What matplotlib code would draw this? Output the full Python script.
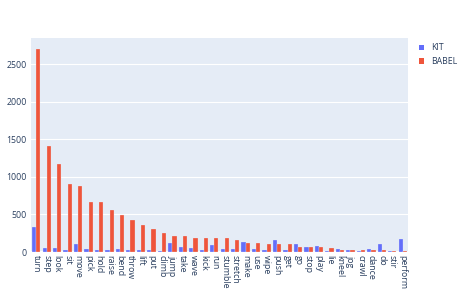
import numpy as np
import matplotlib.pyplot as plt
from matplotlib.patches import Patch

verbs = ['turn', 'step', 'look', 'sit', 'move', 'pick', 'hold', 'raise', 'bend', 'throw',
         'lift', 'put', 'climb', 'jump', 'take', 'wave', 'kick', 'run', 'stumble', 'stretch',
         'make', 'use', 'wipe', 'push', 'get', 'go', 'stop', 'play', 'lie', 'kneel',
         'jog', 'crawl', 'dance', 'do', 'stir', 'perform']

kit = [330, 49, 49, 31, 102, 40, 27, 31, 40, 27,
       27, 27, 18, 120, 67, 58, 27, 93, 45, 36,
       129, 40, 27, 164, 27, 102, 67, 76, 13, 36,
       22, 18, 44, 102, 18, 178]

babel = [2710, 1410, 1177, 902, 880, 667, 665, 556, 489, 422,
         364, 307, 258, 218, 213, 191, 190, 190, 180, 160,
         124, 116, 111, 107, 102, 71, 67, 67, 49, 31,
         27, 31, 31, 27, 13, 18]

txt = '#2a3f5f'
plt.rcParams['font.family'] = ['Open Sans', 'DejaVu Sans']

fig = plt.figure(figsize=(4.66, 2.92), dpi=100)
ax = fig.add_axes([31 / 466, 1 - 252 / 292, 377 / 466, 214 / 292])
ax.set_facecolor('#E5ECF6')

x = np.arange(len(verbs))
w = 0.4
ax.bar(x - w / 2, kit, width=w, color='#636efa', edgecolor='#E5ECF6', linewidth=0.2, zorder=3)
ax.bar(x + w / 2, babel, width=w, color='#EF553B', edgecolor='#E5ECF6', linewidth=0.2, zorder=3)

ax.set_xlim(-0.5, len(verbs) - 0.5)
ax.set_ylim(0, 2853)
ax.set_yticks([0, 500, 1000, 1500, 2000, 2500])
ax.set_xticks(x)
ax.set_xticklabels(verbs, rotation=-90, fontsize=6.3, color=txt)
ax.tick_params(axis='y', labelsize=6.3, labelcolor=txt, length=0, pad=3)
ax.tick_params(axis='x', length=0, pad=2)
ax.grid(axis='y', color='white', linewidth=0.8, zorder=0)
ax.axhline(0, color='white', linewidth=1.5, zorder=2)
for s in ax.spines.values():
    s.set_visible(False)

handles = [Patch(facecolor='#636efa', edgecolor='none', label='KIT'),
           Patch(facecolor='#EF553B', edgecolor='none', label='BABEL')]
leg = fig.legend(handles=handles, loc='upper left', bbox_to_anchor=(415 / 466, 1 - 40 / 292),
                 frameon=False, fontsize=6.3, handlelength=0.6, handleheight=0.6,
                 handletextpad=0.9, labelspacing=0.55, borderaxespad=0)
for t in leg.get_texts():
    t.set_color(txt)

fig.savefig('out.png', dpi=100)
